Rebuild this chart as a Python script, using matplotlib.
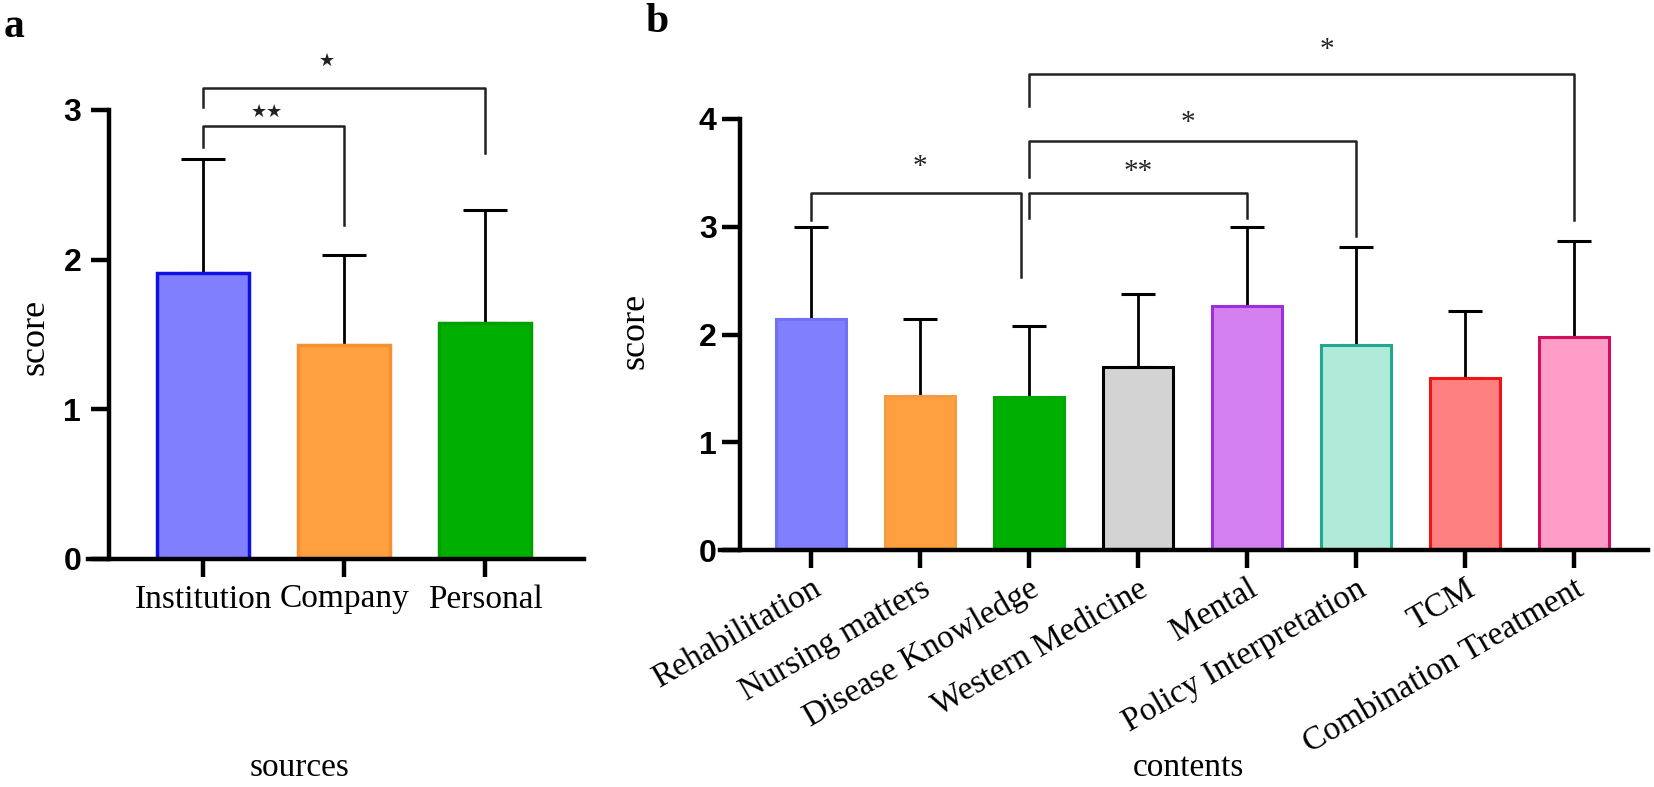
import matplotlib
matplotlib.use("Agg")
import matplotlib.pyplot as plt

# panel a data
src_names = ["Institution", "Company", "Personal"]
src_mean = [1.91, 1.43, 1.58]
src_sd = [0.76, 0.60, 0.75]
src_fill = ["#8080FF", "#FFA040", "#00B000"]
src_edge = ["#1010E0", "#F59030", "#00A000"]

# panel b data
cont_names = ["Rehabilitation", "Nursing matters", "Disease Knowledge", "Western Medicine",
              "Mental", "Policy Interpretation", "TCM", "Combination Treatment"]
cont_mean = [2.14, 1.43, 1.42, 1.70, 2.26, 1.90, 1.60, 1.98]
cont_sd = [0.86, 0.71, 0.66, 0.68, 0.74, 0.91, 0.62, 0.89]
cont_fill = ["#8080FF", "#FFA040", "#00B000", "#D3D3D3", "#D580F0", "#B2EAD9", "#FF8080", "#FF9CC8"]
cont_edge = ["#7070F5", "#F59A40", "#00A800", "#000000", "#9A30D8", "#20A890", "#EE1515", "#D0105A"]

# significance brackets: (x1, x2, height, left bottom, right bottom, label, star x, star y)
src_sig = [(0, 1, 2.89, 2.75, 2.23, "★★", 0.45, 2.99),
           (0, 2, 3.15, 3.02, 2.71, "★", 0.88, 3.33)]
cont_sig = [(0, 1.93, 3.31, 3.06, 2.53, "*", 1.0, 3.55),
            (2, 4, 3.31, 3.08, 3.08, "**", 3.0, 3.51),
            (2, 5, 3.80, 3.46, 2.91, "*", 3.46, 3.96),
            (2, 7, 4.42, 4.12, 3.06, "*", 4.73, 4.64)]

W, H = 1654, 787
fig = plt.figure(figsize=(W / 100, H / 100), dpi=100)

serif = "Liberation Serif"
sans = "Liberation Sans"


def px_axes(l, r, t, b):
    return fig.add_axes([l / W, 1 - b / H, (r - l) / W, (b - t) / H])


def style_axes(ax, yspine):
    for s in ["top", "right"]:
        ax.spines[s].set_visible(False)
    ax.spines["left"].set_position(("data", yspine))
    ax.spines["left"].set_linewidth(3.2)
    ax.spines["bottom"].set_linewidth(3.2)
    ax.tick_params(axis="both", width=3.2, length=13, color="black")
    for lab in ax.get_yticklabels():
        lab.set_fontfamily(sans)
        lab.set_fontweight("bold")
        lab.set_fontsize(23)


def draw_sig(ax, sig, size, fam):
    for x1, x2, h, b1, b2, lab, sx, sy in sig:
        ax.plot([x1, x1, x2, x2], [b1, h, h, b2], color="#222222", lw=1.8, clip_on=False)
        ax.text(sx, sy, lab, ha="center", va="center", fontsize=size, family=fam, color="#222222")


# ---- panel a
axa = px_axes(88, 584, 110, 559)
xa = list(range(len(src_names)))
axa.bar(xa, src_mean, width=0.65, color=src_fill, edgecolor=src_edge, linewidth=2.5, zorder=2)
axa.errorbar(xa, src_mean, yerr=[[0] * 3, src_sd], fmt="none", ecolor="black",
             elinewidth=2, capsize=16, capthick=2.2, zorder=1)
axa.set_xlim(-0.816, 2.70)
axa.set_ylim(0, 3)
axa.set_yticks([0, 1, 2, 3])
axa.set_xticks(xa)
axa.set_xticklabels(src_names, fontsize=24, family=serif)
axa.tick_params(axis="y", pad=7)
axa.tick_params(axis="x", pad=5)
style_axes(axa, -0.667)
draw_sig(axa, src_sig, 13, "DejaVu Sans")

# ---- panel b
axb = px_axes(720, 1648, 119, 550)
xb = list(range(len(cont_names)))
axb.bar(xb, cont_mean, width=0.64, color=cont_fill, edgecolor=cont_edge, linewidth=2.2, zorder=2)
axb.errorbar(xb, cont_mean, yerr=[[0] * 8, cont_sd], fmt="none", ecolor="black",
             elinewidth=2, capsize=12, capthick=2.2, zorder=1)
axb.set_xlim(-0.835, 7.68)
axb.set_ylim(0, 4)
axb.set_yticks([0, 1, 2, 3, 4])
axb.set_xticks(xb)
axb.set_xticklabels(cont_names, fontsize=24, family=serif, rotation=30,
                    ha="right", va="top", rotation_mode="anchor")
axb.tick_params(axis="y", pad=4)
axb.tick_params(axis="x", pad=4)
style_axes(axb, -0.65)
draw_sig(axb, cont_sig, 21, serif)

# axis titles and panel letters
fig.text(35 / W, 1 - 337 / H, "score", rotation=90, ha="center", va="center", fontsize=26, family=serif)
fig.text(635 / W, 1 - 331 / H, "score", rotation=90, ha="center", va="center", fontsize=26, family=serif)
fig.text(300 / W, 1 - 768 / H, "sources", ha="center", va="center", fontsize=24, family=serif)
fig.text(1188 / W, 1 - 768 / H, "contents", ha="center", va="center", fontsize=24, family=serif)
fig.text(14 / W, 1 - 27 / H, "a", ha="center", va="center", fontsize=30, family=serif, fontweight="bold")
fig.text(657 / W, 1 - 22 / H, "b", ha="center", va="center", fontsize=30, family=serif, fontweight="bold")

fig.savefig("out.png", dpi=100)
